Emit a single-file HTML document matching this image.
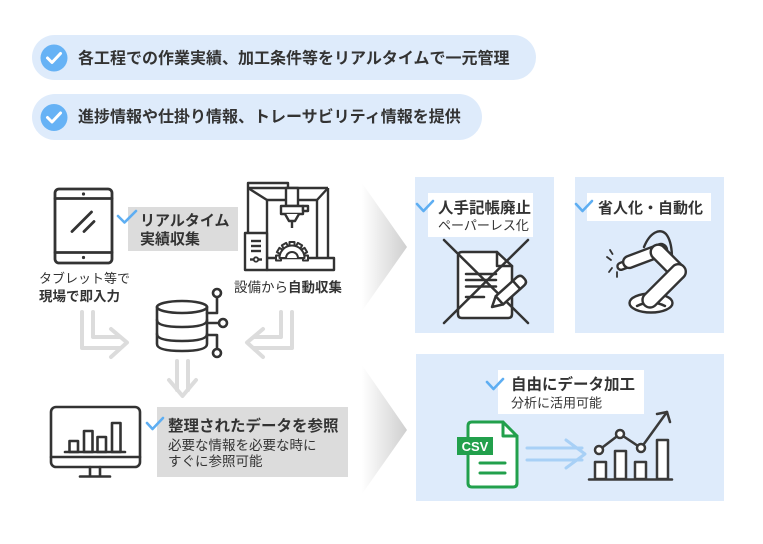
<!DOCTYPE html>
<html><head><meta charset="utf-8"><style>
html,body{margin:0;padding:0;background:#fff;}
svg{display:block;}
text{font-family:"Liberation Sans","Noto Sans CJK JP",sans-serif;fill:#333;}
.b{font-weight:bold;}
</style></head><body>
<svg width="763" height="544" viewBox="0 0 763 544" xmlns="http://www.w3.org/2000/svg">
<defs>
<linearGradient id="g" x1="0" x2="1" y1="0" y2="0"><stop offset="0" stop-color="#fff"/><stop offset="1" stop-color="#cfcfcf"/></linearGradient>
</defs>
<rect width="763" height="544" fill="#fff"/>

<!-- pills -->
<rect x="32" y="35" width="504" height="45" rx="22.5" fill="#deebfb"/>
<circle cx="54" cy="58" r="13.5" fill="#66b2f5"/>
<path d="M47.5 58 L52 62.5 L60.5 53.5" stroke="#fff" stroke-width="3" fill="none" stroke-linecap="round" stroke-linejoin="round"/>
<text x="78" y="63.5" font-size="16" class="b">各工程での作業実績、加工条件等をリアルタイムで一元管理</text>

<rect x="32" y="94" width="450" height="46" rx="23" fill="#deebfb"/>
<circle cx="54" cy="117.5" r="13.5" fill="#66b2f5"/>
<path d="M47.5 117.5 L52 122 L60.5 113" stroke="#fff" stroke-width="3" fill="none" stroke-linecap="round" stroke-linejoin="round"/>
<text x="78" y="122" font-size="16" class="b">進捗情報や仕掛り情報、トレーサビリティ情報を提供</text>

<!-- chevrons -->
<polygon points="362,183 407,247 362,311" fill="url(#g)"/>
<polygon points="362,365 407,430 362,494" fill="url(#g)"/>

<!-- tablet -->
<g stroke="#333" stroke-width="2.8" fill="none" stroke-linecap="round">
<rect x="55" y="189" width="57" height="74" rx="4"/>
<line x1="55" y1="198.5" x2="112" y2="198.5"/>
<line x1="55" y1="252.5" x2="112" y2="252.5"/>
<line x1="91.5" y1="212" x2="72" y2="231.5"/>
<line x1="94" y1="221.5" x2="84" y2="231.5"/>
</g>
<circle cx="83.5" cy="194" r="1.6" fill="#333"/>
<circle cx="83.5" cy="257.5" r="1.6" fill="#333"/>
<text x="39" y="283" font-size="13">タブレット等で</text>
<text x="39" y="301" font-size="13.5" class="b">現場で即入力</text>

<!-- realtime label -->
<rect x="128" y="207" width="110" height="44" fill="#dcdcdc"/>
<path d="M118 216 L124.5 222.5 L136 211" stroke="#5eaef2" stroke-width="2.6" fill="none" stroke-linecap="round" stroke-linejoin="round"/>
<text x="140" y="225.5" font-size="15" class="b">リアルタイム</text>
<text x="140" y="244" font-size="15" class="b">実績収集</text>

<!-- machine -->
<g stroke="#333" stroke-width="2.4" fill="none" stroke-linejoin="round">
<polyline points="248,233 248,183 288,183 288,188"/>
<line x1="248" y1="188" x2="328" y2="188"/>
<line x1="328" y1="188" x2="328" y2="258"/>
<line x1="267" y1="200" x2="317" y2="200"/>
<line x1="267" y1="200" x2="267" y2="258"/>
<line x1="317" y1="200" x2="317" y2="258"/>
<line x1="248" y1="188" x2="267" y2="200"/>
<line x1="328" y1="188" x2="317" y2="200"/>
<rect x="267" y="258" width="67" height="12" fill="#fff"/>
<rect x="245" y="233" width="22" height="37" fill="#fff"/>
<line x1="251" y1="241" x2="261" y2="241"/>
<line x1="251" y1="246" x2="261" y2="246"/>
<line x1="251" y1="251" x2="261" y2="251"/>
<line x1="250" y1="259.5" x2="262" y2="259.5"/>
<rect x="286" y="188" width="12" height="18" fill="#fff"/>
<path d="M281 206 L303 206 L303 214 L281 214 Z" fill="#fff"/>
<rect x="303" y="206" width="5" height="5" fill="#fff"/>
<path d="M285 214 L289 221 L295 221 L299 214" fill="#fff"/>
<line x1="292" y1="221" x2="292" y2="228"/>
</g>
<circle cx="256" cy="259.5" r="2.2" fill="#fff" stroke="#333" stroke-width="1.8"/>
<g stroke="#333" stroke-width="2" fill="#fff" stroke-linejoin="round">
<g transform="translate(292,258) rotate(-180)"><rect x="11" y="-2.5" width="5" height="5"/></g>
<g transform="translate(292,258) rotate(-150)"><rect x="11" y="-2.5" width="5" height="5"/></g>
<g transform="translate(292,258) rotate(-120)"><rect x="11" y="-2.5" width="5" height="5"/></g>
<g transform="translate(292,258) rotate(-90)"><rect x="11" y="-2.5" width="5" height="5"/></g>
<g transform="translate(292,258) rotate(-60)"><rect x="11" y="-2.5" width="5" height="5"/></g>
<g transform="translate(292,258) rotate(-30)"><rect x="11" y="-2.5" width="5" height="5"/></g>
<g transform="translate(292,258) rotate(0)"><rect x="11" y="-2.5" width="5" height="5"/></g>
<path d="M279.5 258 A12.5 12.5 0 0 1 304.5 258 Z"/>
<path d="M286 258 A6 6 0 0 1 298 258"/>
</g>
<text x="234" y="292" font-size="13.5">設備から<tspan class="b">自動収集</tspan></text>

<!-- gray arrows -->
<g stroke="#dcdcdc" stroke-width="4" fill="none" stroke-linecap="round" stroke-linejoin="round">
<polyline points="82,312 82,348 120,348"/>
<polyline points="93,312 93,337 120,337"/>
<polyline points="111,329 127,342.5 111,357"/>
<polyline points="292,312 292,348 254,348"/>
<polyline points="281,312 281,337 254,337"/>
<polyline points="263,329 247,342.5 263,357"/>
<line x1="177" y1="361" x2="177" y2="390"/>
<line x1="188" y1="361" x2="188" y2="390"/>
<polyline points="169,380 182.5,396 196,380"/>
</g>

<!-- database -->
<g stroke="#333" stroke-width="2.6" fill="none" stroke-linecap="round" stroke-linejoin="round">
<ellipse cx="182" cy="307" rx="25" ry="6" fill="#fff"/>
<path d="M157 307 L157 344 Q157 351 182 351 Q207 351 207 344 L207 307"/>
<path d="M157 320 Q157 327 182 327 Q207 327 207 320"/>
<path d="M157 334 Q157 341 182 341 Q207 341 207 334"/>
<polyline points="207,313 217,313 217,297"/>
<line x1="207" y1="323" x2="219" y2="323"/>
<polyline points="207,335 217,335 217,349"/>
<circle cx="217" cy="293" r="4" fill="#fff"/>
<circle cx="223" cy="323" r="4" fill="#fff"/>
<circle cx="217" cy="353" r="4" fill="#fff"/>
</g>

<!-- monitor -->
<g stroke="#333" stroke-width="2.6" fill="none" stroke-linecap="round" stroke-linejoin="round">
<rect x="51" y="407" width="89" height="60" rx="5"/>
<line x1="51" y1="457" x2="140" y2="457"/>
<line x1="90" y1="467" x2="90" y2="476"/>
<line x1="100" y1="467" x2="100" y2="476"/>
<line x1="80" y1="476.5" x2="110" y2="476.5"/>
<line x1="65" y1="452" x2="125" y2="452"/>
<rect x="69.5" y="441" width="8.5" height="11"/>
<rect x="84" y="431" width="8.5" height="21"/>
<rect x="97.5" y="437" width="8.5" height="15"/>
<rect x="112" y="423" width="8.5" height="29"/>
</g>
<rect x="157" y="407" width="191" height="70" fill="#dcdcdc"/>
<path d="M147 423 L152.5 429 L163 418" stroke="#5eaef2" stroke-width="2.6" fill="none" stroke-linecap="round" stroke-linejoin="round"/>
<text x="168" y="431" font-size="15.5" class="b">整理されたデータを参照</text>
<text x="168" y="450" font-size="13.5">必要な情報を必要な時に</text>
<text x="168" y="466" font-size="13.5">すぐに参照可能</text>

<!-- box 1 -->
<rect x="415" y="177" width="139" height="156" fill="#deebfb"/>
<rect x="428" y="193" width="105" height="44" fill="#fff"/>
<path d="M417 204 L423.5 211 L433 201" stroke="#5eaef2" stroke-width="2.6" fill="none" stroke-linecap="round" stroke-linejoin="round"/>
<text x="438" y="213" font-size="15.5" class="b">人手記帳廃止</text>
<text x="438" y="230" font-size="13">ペーパーレス化</text>
<g stroke="#333" stroke-width="2.5" fill="none" stroke-linecap="round" stroke-linejoin="round">
<path d="M462 252 L497 252 L512 266 L512 314 Q512 318 508 318 L462 318 Q458 318 458 314 L458 256 Q458 252 462 252 Z" fill="#fff"/>
<polyline points="497,252 497,266 512,266"/>
<line x1="466" y1="274" x2="496" y2="274"/>
<line x1="466" y1="280" x2="496" y2="280"/>
<line x1="466" y1="286.5" x2="496" y2="286.5"/>
<line x1="466" y1="297" x2="484" y2="297"/>
<line x1="444" y1="240" x2="528" y2="323"/>
<line x1="528" y1="240" x2="444" y2="323"/>
<g transform="translate(492,307) rotate(-42)">
<path d="M0 0 L10 -5.5 L38 -5.5 Q43 -5.5 43 -1 L43 1 Q43 5.5 38 5.5 L10 5.5 Z" fill="#fff"/>
<line x1="10" y1="-5.5" x2="10" y2="5.5"/>
<line x1="33" y1="-5.5" x2="33" y2="5.5"/>
</g>
</g>

<!-- box 2 -->
<rect x="575" y="177" width="149" height="156" fill="#deebfb"/>
<rect x="587" y="193" width="124" height="28" fill="#fff"/>
<path d="M576 204 L582.5 211 L592 201" stroke="#5eaef2" stroke-width="2.6" fill="none" stroke-linecap="round" stroke-linejoin="round"/>
<text x="598" y="213" font-size="15" class="b">省人化・自動化</text>
<g stroke="#333" stroke-width="2.4" fill="none" stroke-linecap="round" stroke-linejoin="round">
<ellipse cx="651" cy="303" rx="21.5" ry="9.5" fill="#fff"/>
<path d="M637 306 Q651 299 665 306"/>
<path d="M644 247 C650 232 660 228 666 234 C671 240 672 250 672 259"/>
<g transform="translate(627,264) rotate(-21)"><rect x="-10" y="-3.5" width="14" height="7" rx="3.5" fill="#fff"/></g>
<g transform="translate(661,250) rotate(159.4)"><rect x="-6" y="-6" width="46" height="12" rx="6" fill="#fff"/></g>
<g transform="translate(678,272) rotate(-135)"><rect x="-7.5" y="-7.5" width="43" height="15" rx="7.5" fill="#fff"/></g>
<g transform="translate(650,300) rotate(-45)"><rect x="-7.5" y="-7.5" width="55" height="15" rx="7.5" fill="#fff"/></g>
<line x1="607" y1="257" x2="611" y2="260" stroke-width="1.8"/>
<line x1="610" y1="250" x2="612.5" y2="254" stroke-width="1.8"/>
<line x1="612" y1="268" x2="609" y2="272" stroke-width="1.8"/>
<line x1="617" y1="272" x2="617" y2="277" stroke-width="1.8"/>
</g>

<!-- box 3 -->
<rect x="416" y="354" width="308" height="147" fill="#deebfb"/>
<rect x="498" y="370" width="146" height="44" fill="#fff"/>
<path d="M487 382 L493.5 389 L503 379" stroke="#5eaef2" stroke-width="2.6" fill="none" stroke-linecap="round" stroke-linejoin="round"/>
<text x="511" y="389.5" font-size="15.5" class="b">自由にデータ加工</text>
<text x="511" y="407.5" font-size="13">分析に活用可能</text>
<g stroke="#22a04c" stroke-width="3" fill="none" stroke-linejoin="round" stroke-linecap="round">
<path d="M472 422 L503 422 L517 436 L517 483 Q517 487 513 487 L472 487 Q468 487 468 483 L468 426 Q468 422 472 422 Z" fill="#fff"/>
<polyline points="503,422 503,436 517,436"/>
<line x1="480" y1="463" x2="505" y2="463"/>
<line x1="480" y1="473" x2="505" y2="473"/>
</g>
<rect x="457" y="437" width="36" height="18" fill="#22a04c"/>
<text x="475" y="451" font-size="13" class="b" text-anchor="middle" style="fill:#fff">CSV</text>
<g stroke="#a8d0f6" stroke-width="3" fill="none" stroke-linecap="round" stroke-linejoin="round">
<line x1="527" y1="448" x2="582" y2="448"/>
<line x1="527" y1="460" x2="582" y2="460"/>
<polyline points="566,440 585,454 566,468"/>
</g>
<g stroke="#3a3a3a" stroke-width="2.5" fill="none" stroke-linecap="round" stroke-linejoin="round">
<rect x="595" y="462" width="11" height="17" fill="#fff"/>
<rect x="615" y="451" width="11" height="28" fill="#fff"/>
<rect x="635" y="462" width="11" height="17" fill="#fff"/>
<rect x="657" y="440" width="11" height="39" fill="#fff"/>
<line x1="589" y1="479.5" x2="672" y2="479.5"/>
<polyline points="599,450 620,434 641,448 667,412"/>
<polyline points="657,414 667,412 670,422"/>
<circle cx="599" cy="450" r="4" fill="#fff"/>
<circle cx="620" cy="434" r="4" fill="#fff"/>
<circle cx="641" cy="448" r="4" fill="#fff"/>
</g>
</svg>
</body></html>
